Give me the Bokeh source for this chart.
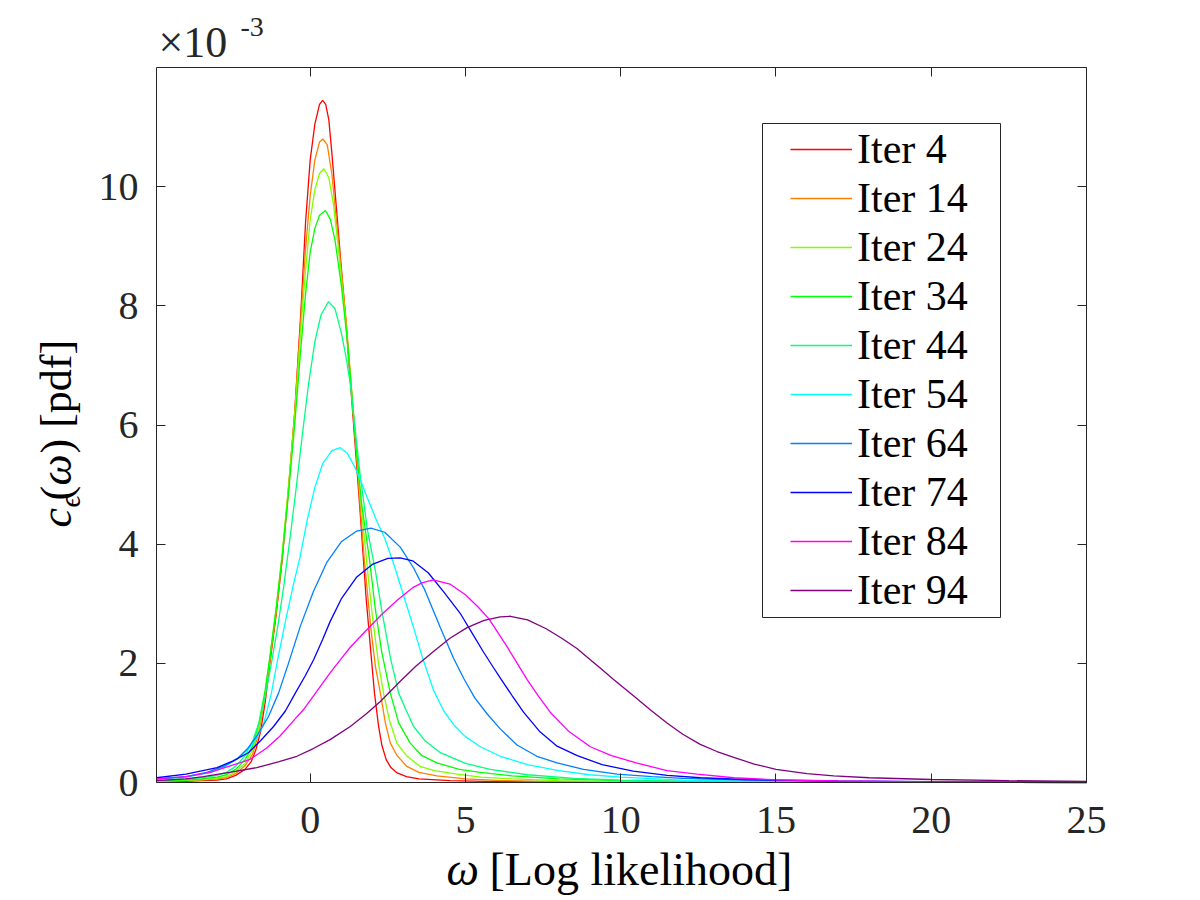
from bokeh.plotting import figure
from bokeh.models import Range1d, FixedTicker, LinearAxis, Legend, LegendItem, Label, BoxAnnotation
from bokeh.embed import file_html
from bokeh.resources import INLINE

# ---- data (y in units of 1e-3) ----
x_it4 = [-4.95, -4.0, -3.5, -3.0, -2.7, -2.4, -2.1, -1.9, -1.75, -1.6, -1.45, -1.3, -1.1, -0.9, -0.7, -0.5, -0.3, -0.15, 0.0, 0.15, 0.3, 0.4, 0.5, 0.6, 0.7, 0.86, 1.0, 1.13, 1.37, 1.6, 1.8, 1.95, 2.07, 2.2, 2.31, 2.45, 2.6, 2.8, 3.1, 3.5, 4.5, 6.0, 10.0, 25.0]
y_it4 = [0.01, 0.02, 0.03, 0.04, 0.06, 0.12, 0.22, 0.35, 0.55, 0.85, 1.35, 2.0, 2.8, 3.75, 4.9, 6.2, 7.9, 9.4, 10.45, 11.05, 11.38, 11.45, 11.38, 11.12, 10.55, 9.54, 8.65, 7.85, 6.2, 4.6, 3.1, 2.2, 1.5, 0.95, 0.62, 0.38, 0.25, 0.16, 0.1, 0.06, 0.03, 0.015, 0.005, 0.0]

x_it14 = [-4.95, -4.0, -3.5, -3.0, -2.7, -2.4, -2.1, -1.85, -1.65, -1.45, -1.3, -1.1, -0.9, -0.7, -0.5, -0.3, -0.15, 0.0, 0.15, 0.3, 0.41, 0.55, 0.7, 0.86, 1.15, 1.4, 1.6, 1.74, 1.95, 2.1, 2.26, 2.42, 2.58, 2.8, 3.11, 3.5, 4.08, 5.0, 6.0, 8.0, 12.0, 25.0]
y_it14 = [0.02, 0.03, 0.04, 0.06, 0.08, 0.15, 0.28, 0.48, 0.85, 1.45, 2.05, 2.85, 3.8, 4.95, 6.2, 7.8, 8.95, 9.85, 10.45, 10.75, 10.8, 10.7, 10.2, 9.35, 7.8, 6.15, 4.7, 3.75, 2.6, 1.95, 1.5, 1.0, 0.66, 0.45, 0.27, 0.17, 0.11, 0.06, 0.035, 0.015, 0.005, 0.0]

x_it24 = [-4.95, -4.0, -3.5, -3.0, -2.7, -2.4, -2.1, -1.85, -1.65, -1.45, -1.3, -1.1, -0.9, -0.7, -0.5, -0.3, -0.15, 0.0, 0.15, 0.3, 0.44, 0.6, 0.75, 0.9, 1.15, 1.4, 1.62, 1.81, 2.0, 2.2, 2.36, 2.55, 2.79, 3.1, 3.54, 4.0, 4.73, 5.5, 6.5, 8.0, 10.0, 14.0, 25.0]
y_it24 = [0.02, 0.035, 0.05, 0.07, 0.1, 0.18, 0.32, 0.55, 0.92, 1.5, 2.1, 2.9, 3.85, 4.95, 6.15, 7.6, 8.6, 9.45, 9.95, 10.22, 10.3, 10.15, 9.7, 9.0, 7.7, 6.15, 4.75, 3.75, 2.8, 2.0, 1.5, 1.05, 0.66, 0.45, 0.27, 0.2, 0.14, 0.09, 0.06, 0.03, 0.015, 0.005, 0.0]

x_it34 = [-4.95, -4.0, -3.5, -3.0, -2.7, -2.4, -2.1, -1.85, -1.65, -1.45, -1.3, -1.1, -0.9, -0.7, -0.5, -0.3, -0.15, 0.0, 0.15, 0.3, 0.49, 0.65, 0.8, 1.0, 1.2, 1.45, 1.65, 1.91, 2.1, 2.3, 2.58, 2.85, 3.22, 3.6, 4.08, 4.8, 5.48, 6.5, 8.0, 10.0, 13.0, 25.0]
y_it34 = [0.03, 0.045, 0.06, 0.09, 0.13, 0.22, 0.38, 0.62, 1.0, 1.55, 2.1, 2.9, 3.8, 4.85, 6.0, 7.3, 8.2, 8.9, 9.3, 9.52, 9.6, 9.45, 9.1, 8.35, 7.4, 5.8, 4.7, 3.74, 2.9, 2.2, 1.5, 1.0, 0.66, 0.45, 0.33, 0.22, 0.17, 0.11, 0.06, 0.03, 0.01, 0.0]

x_it44 = [-4.95, -4.0, -3.5, -3.0, -2.7, -2.4, -2.1, -1.85, -1.65, -1.45, -1.25, -1.05, -0.85, -0.65, -0.45, -0.25, -0.05, 0.15, 0.35, 0.59, 0.8, 1.0, 1.15, 1.29, 1.42, 1.6, 1.84, 2.1, 2.3, 2.58, 2.85, 3.1, 3.33, 3.7, 4.19, 5.0, 5.8, 7.0, 8.5, 10.0, 13.0, 17.0, 25.0]
y_it44 = [0.04, 0.06, 0.08, 0.12, 0.17, 0.27, 0.45, 0.7, 1.0, 1.45, 2.0, 2.6, 3.3, 4.1, 4.95, 5.85, 6.7, 7.4, 7.85, 8.07, 7.95, 7.55, 7.15, 6.7, 6.05, 5.2, 4.25, 3.55, 2.9, 2.1, 1.5, 1.2, 0.94, 0.7, 0.5, 0.32, 0.22, 0.13, 0.07, 0.04, 0.015, 0.005, 0.0]

x_it54 = [-4.95, -4.0, -3.2, -2.7, -2.3, -2.0, -1.75, -1.5, -1.25, -1.05, -0.8, -0.55, -0.32, -0.1, 0.15, 0.4, 0.7, 0.97, 1.2, 1.45, 1.66, 1.9, 2.15, 2.4, 2.7, 3.0, 3.33, 3.6, 3.97, 4.3, 4.62, 5.0, 5.48, 6.12, 7.0, 8.0, 9.0, 10.0, 12.0, 15.0, 20.0, 25.0]
y_it54 = [0.05, 0.09, 0.17, 0.28, 0.42, 0.56, 0.72, 0.98, 1.5, 2.06, 2.7, 3.3, 3.8, 4.4, 4.95, 5.35, 5.57, 5.62, 5.52, 5.28, 5.02, 4.7, 4.38, 4.1, 3.65, 3.15, 2.6, 2.12, 1.55, 1.2, 0.97, 0.77, 0.6, 0.44, 0.3, 0.2, 0.13, 0.09, 0.04, 0.015, 0.005, 0.0]

x_it64 = [-4.95, -4.0, -3.33, -2.8, -2.36, -2.0, -1.72, -1.35, -1.02, -0.7, -0.32, 0.1, 0.54, 1.0, 1.5, 1.95, 2.4, 2.9, 3.33, 3.7, 3.97, 4.19, 4.62, 4.94, 5.3, 5.7, 6.12, 6.66, 7.3, 7.95, 8.8, 9.88, 11.0, 12.0, 14.0, 17.0, 21.0, 25.0]
y_it64 = [0.06, 0.1, 0.17, 0.27, 0.39, 0.58, 0.78, 1.1, 1.5, 2.0, 2.62, 3.2, 3.7, 4.04, 4.22, 4.27, 4.2, 3.95, 3.6, 3.22, 2.88, 2.6, 2.08, 1.75, 1.42, 1.15, 0.9, 0.63, 0.44, 0.33, 0.22, 0.14, 0.1, 0.07, 0.04, 0.02, 0.01, 0.005]

x_it74 = [-4.95, -4.0, -3.0, -2.5, -1.99, -1.6, -1.18, -0.8, -0.48, -0.15, 0.11, 0.4, 0.64, 1.0, 1.5, 2.0, 2.5, 2.9, 3.3, 3.8, 4.3, 4.83, 5.2, 5.58, 5.9, 6.15, 6.5, 6.87, 7.4, 7.95, 8.6, 9.4, 10.4, 11.5, 12.56, 14.0, 17.0, 21.0, 25.0]
y_it74 = [0.08, 0.14, 0.25, 0.36, 0.5, 0.7, 0.94, 1.2, 1.5, 1.8, 2.06, 2.4, 2.7, 3.08, 3.45, 3.66, 3.76, 3.77, 3.72, 3.52, 3.2, 2.84, 2.52, 2.19, 1.93, 1.73, 1.46, 1.18, 0.85, 0.61, 0.45, 0.3, 0.19, 0.12, 0.08, 0.05, 0.025, 0.012, 0.006]

x_it84 = [-4.95, -4.0, -3.22, -2.5, -1.93, -1.4, -0.97, -0.6, -0.22, 0.2, 0.64, 1.0, 1.29, 1.8, 2.3, 2.8, 3.3, 3.6, 3.96, 4.5, 5.0, 5.4, 5.75, 6.34, 6.98, 7.35, 7.73, 8.3, 9.02, 9.7, 10.5, 11.49, 12.46, 13.64, 15.0, 17.0, 20.0, 25.0]
y_it84 = [0.06, 0.1, 0.17, 0.29, 0.39, 0.58, 0.78, 1.0, 1.22, 1.52, 1.84, 2.08, 2.27, 2.55, 2.82, 3.06, 3.27, 3.35, 3.4, 3.33, 3.15, 2.95, 2.75, 2.28, 1.73, 1.45, 1.18, 0.87, 0.6, 0.45, 0.33, 0.2, 0.14, 0.08, 0.045, 0.025, 0.012, 0.005]

x_it94 = [-4.95, -4.0, -3.44, -2.6, -1.72, -1.0, -0.43, 0.1, 0.64, 1.29, 1.8, 2.26, 2.9, 3.4, 3.97, 4.5, 5.05, 5.6, 6.12, 6.45, 7.0, 7.6, 8.1, 8.59, 9.0, 9.34, 9.77, 10.42, 10.95, 11.49, 12.0, 12.56, 13.1, 13.64, 14.3, 15.0, 16.0, 16.86, 18.0, 20.0, 22.5, 25.0]
y_it94 = [0.03, 0.06, 0.1, 0.17, 0.25, 0.35, 0.44, 0.57, 0.72, 0.94, 1.15, 1.36, 1.7, 1.95, 2.2, 2.42, 2.6, 2.72, 2.78, 2.79, 2.73, 2.58, 2.42, 2.25, 2.07, 1.92, 1.73, 1.45, 1.22, 1.0, 0.81, 0.64, 0.52, 0.42, 0.31, 0.22, 0.15, 0.11, 0.08, 0.05, 0.03, 0.02]

series_labels = ["Iter 4", "Iter 14", "Iter 24", "Iter 34", "Iter 44",
                 "Iter 54", "Iter 64", "Iter 74", "Iter 84", "Iter 94"]
series_colors = ["#ff0000", "#ff8000", "#80ff00", "#00ff00", "#00ff80",
                 "#00ffff", "#0080ff", "#0000ff", "#ff00ff", "#800080"]
series_x = [x_it4, x_it14, x_it24, x_it34, x_it44, x_it54, x_it64, x_it74, x_it84, x_it94]
series_y = [y_it4, y_it14, y_it24, y_it34, y_it44, y_it54, y_it64, y_it74, y_it84, y_it94]

x_ticks = [0, 5, 10, 15, 20, 25]
y_ticks = [0, 2, 4, 6, 8, 10]

# ---- layout: the axes box spans pixels (156..1086, 67..782) of the 1200x900 canvas ----
X0, X1, Y0, Y1 = -4.95, 25.0, 0.0, 12.0
FL, FR, FT, FB = 156, 1086, 67, 782
W, H = 1200, 900
BASE = 0.35  # label anchor offset (fraction of font size) so the glyph baseline lands where wanted


def dx(px):
    return X0 + (px - FL) * (X1 - X0) / (FR - FL)


def dy(py):
    return Y0 + (FB - py) * (Y1 - Y0) / (FB - FT)


INK = "#262626"
SERIF = "Liberation Serif"

p = figure(width=W, height=H, x_range=Range1d(dx(0), dx(W)), y_range=Range1d(dy(H), dy(0)),
           output_backend="svg", toolbar_location=None,
           x_axis_location=None, y_axis_location=None, min_border=0)
p.grid.visible = False
p.outline_line_color = None
p.background_fill_color = "white"
p.border_fill_color = "white"


def make_axis(ticks, loc, bounds, show_labels, standoff):
    ax = LinearAxis(fixed_location=loc, bounds=bounds, ticker=FixedTicker(ticks=ticks))
    ax.axis_line_color = INK
    ax.axis_line_width = 1
    ax.major_tick_in = 9
    ax.major_tick_out = 0
    ax.minor_tick_line_color = None
    ax.major_tick_line_color = INK
    ax.major_label_text_font = SERIF
    ax.major_label_text_font_size = "40px"
    ax.major_label_text_color = INK
    ax.major_label_standoff = standoff
    if not show_labels:
        ax.major_label_overrides = {t: "" for t in ticks}
    return ax


p.add_layout(make_axis(x_ticks, Y0, (X0, X1), True, 24), "below")
p.add_layout(make_axis(x_ticks, Y1, (X0, X1), False, 4), "above")
p.add_layout(make_axis(y_ticks, X0, (Y0, Y1), True, 18), "left")
p.add_layout(make_axis(y_ticks, X1, (Y0, Y1), False, 4), "right")

renderers = []
for xs, ys, c in zip(series_x, series_y, series_colors):
    r = p.line(xs, ys, line_color=c, line_width=1.3)
    renderers.append(r)

# legend frame
p.add_layout(BoxAnnotation(left=dx(762), right=dx(1000), top=dy(123), bottom=dy(617),
                           fill_color="white", fill_alpha=1.0,
                           line_color=INK, line_width=1, line_alpha=1.0))

legend = Legend(items=[LegendItem(label=l, renderers=[r]) for l, r in zip(series_labels, renderers)],
                location=(790, H - 614), padding=0, spacing=1, margin=0,
                glyph_width=62, glyph_height=48, label_height=48, label_standoff=5,
                label_text_font=SERIF, label_text_font_size="42px", label_text_color="black",
                border_line_color=None, background_fill_alpha=0.0)
p.add_layout(legend, "center")


def hlabel(px, base_py, text, fs, italic=False, color="black"):
    p.add_layout(Label(x=dx(px), y=dy(base_py - BASE * fs), text=text, text_font=SERIF,
                       text_font_style="italic" if italic else "normal",
                       text_font_size=f"{fs}px", text_baseline="alphabetic", text_align="left",
                       text_color=color))


def vlabel(base_px, start_py, text, fs, italic=False):
    p.add_layout(Label(x=dx(base_px - BASE * fs), y=dy(start_py), text=text, text_font=SERIF,
                       text_font_style="italic" if italic else "normal",
                       text_font_size=f"{fs}px", angle=1.5707963, text_baseline="alphabetic",
                       text_align="left", text_color="black"))


# exponent label
hlabel(158, 57, "×10", 44, color=INK)
hlabel(240, 36, "-3", 28, color=INK)

# x axis label
hlabel(446, 885, "ω", 46, italic=True)
hlabel(489, 885, "[Log likelihood]", 46)

# y axis label (rotated, reading bottom to top)
vlabel(71, 527, "c", 44, italic=True)
vlabel(79, 507, "ϵ", 30, italic=True)
vlabel(71, 500, "(", 44)
vlabel(71, 485, "ω", 44, italic=True)
vlabel(71, 453, ") [pdf]", 44)

open("out.html", "w").write(file_html(p, INLINE))
